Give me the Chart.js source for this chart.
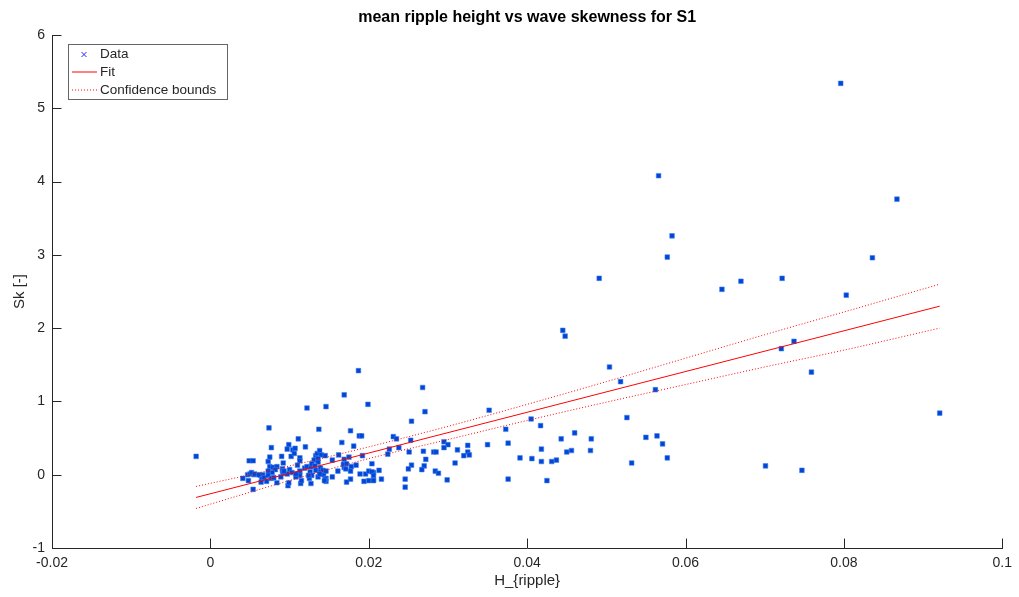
<!DOCTYPE html>
<html>
<head>
<meta charset="utf-8">
<title>mean ripple height vs wave skewness for S1</title>
<script src="https://cdn.jsdelivr.net/npm/chart.js@4.4.0/dist/chart.umd.min.js"></script>
<style>
    html, body { margin: 0; padding: 0; background: #fff; }
    #wrap { width: 1019px; height: 597px; }
</style>
</head>
<body>
<div id="wrap"><canvas id="skew-canvas" width="1019" height="597"></canvas></div>
<script>
var hRipple = [
    -0.0018, 0.0796, 0.0566, 0.0867, 0.0583, 0.0577, 0.0491, 0.0836, 0.0670, 0.0722,
    0.0646, 0.0803, 0.0721, 0.0737, 0.0759, 0.0921, 0.0701, 0.0747, 0.0445, 0.0448,
    0.0504, 0.0518, 0.0562, 0.0526, 0.0405, 0.0417, 0.0443, 0.0460, 0.0481, 0.0418,
    0.0450, 0.0456, 0.0480, 0.0550, 0.0564, 0.0571, 0.0577, 0.0532, 0.0418, 0.0431,
    0.0437, 0.0425, 0.0406, 0.0391, 0.0376, 0.0373, 0.0376, 0.0350, 0.0352,
    0.0268, 0.0271, 0.0254, 0.0231, 0.0235, 0.0253, 0.0226, 0.0224, 0.0238, 0.0251,
    0.0269, 0.0282, 0.0285, 0.0295, 0.0300, 0.0295, 0.0312, 0.0325, 0.0325, 0.0327,
    0.0320, 0.0309, 0.0272, 0.0270, 0.0267, 0.0254, 0.0250, 0.0284, 0.0288, 0.0299,
    0.0246, 0.0246, 0.0216, 0.0206, 0.0206, 0.0204, 0.0199, 0.0188, 0.0191, 0.0192,
    0.0196, 0.0200, 0.0204, 0.0206, 0.0194, 0.0200, 0.0206, 0.0189, 0.0213,
    0.0187, 0.0169, 0.0122, 0.0146, 0.0074, 0.0137, 0.0177, 0.0111, 0.0166, 0.0099,
    0.0077, 0.0120, 0.0181, 0.0097, 0.0104, 0.0107, 0.0075, 0.0090, 0.0102, 0.0106,
    0.0113, 0.0113, 0.0133, 0.0135, 0.0138, 0.0140, 0.0131, 0.0136, 0.0136, 0.0145,
    0.0154, 0.0162, 0.0169, 0.0175, 0.0049, 0.0054, 0.0073, 0.0092, 0.0110, 0.0075,
    0.0079, 0.0084, 0.0082, 0.0078, 0.0073, 0.0091, 0.0091, 0.0092, 0.0089, 0.0100,
    0.0103, 0.0097, 0.0113, 0.0113, 0.0119, 0.0122, 0.0127, 0.0128, 0.0132, 0.0126,
    0.0128, 0.0133, 0.0139, 0.0139, 0.0142, 0.0143, 0.0146, 0.0146, 0.0146, 0.0145,
    0.0161, 0.0169, 0.0171, 0.0168, 0.0172, 0.0178, 0.0184, 0.0177, 0.0177, 0.0172,
    0.0041, 0.0047, 0.0050, 0.0055, 0.0048, 0.0054, 0.0063, 0.0066, 0.0065, 0.0068,
    0.0064, 0.0071, 0.0073, 0.0077, 0.0084, 0.0080, 0.0098, 0.0099, 0.0108, 0.0108,
    0.0114, 0.0115, 0.0125, 0.0124, 0.0127, 0.0136, 0.0138, 0.0144, 0.0154, 0.0052,
    0.0056, 0.0061, 0.0093
];
var skewness = [
    0.25, 5.34, 4.08, 3.76, 3.26, 2.97, 2.68, 2.96, 2.64, 2.68,
    2.53, 2.45, 1.72, 1.82, 1.40, 0.84, 0.12, 0.06, 1.97, 1.89,
    1.47, 1.27, 1.16, 0.78, 0.76, 0.67, 0.49, 0.57, 0.49, 0.35,
    0.31, 0.33, 0.33, 0.51, 0.53, 0.42, 0.23, 0.16, 0.18, 0.18,
    0.20, -0.08, 0.22, 0.23, 0.43, 0.62, -0.06, 0.41, 0.88,
    1.19, 0.86, 0.73, 0.52, 0.49, 0.47, 0.35, 0.28, 0.37, 0.31,
    0.32, 0.31, 0.31, 0.45, 0.41, 0.37, 0.34, 0.40, 0.31, 0.27,
    0.26, 0.16, 0.21, 0.12, 0.07, 0.13, 0.08, 0.05, 0.02, -0.07,
    -0.06, -0.17, -0.06, -0.07, 0.03, 0.15, 0.96, 0.53, 0.53, 0.26,
    0.01, 0.05, 0.04, -0.01, -0.09, -0.08, -0.08, 0.01, 0.06,
    1.42, 1.09, 0.91, 0.93, 0.64, 0.62, 0.60, 0.49, 0.44, 0.41,
    0.37, 0.38, 0.39, 0.35, 0.34, 0.36, 0.24, 0.25, 0.25, 0.29,
    0.23, 0.19, 0.26, 0.29, 0.33, 0.27, 0.20, 0.22, 0.17, 0.26,
    0.20, 0.27, 0.21, 0.24, 0.19, 0.19, 0.18, 0.16, 0.13, 0.11,
    0.10, 0.11, 0.07, 0.03, 0.05, 0.08, 0.05, 0.02, -0.03, 0.07,
    0.03, 0.01, 0.05, -0.01, 0.09, 0.11, 0.11, 0.15, 0.12, 0.04,
    -0.01, 0.06, 0.09, 0.04, 0.06, 0.00, 0.05, -0.05, -0.09, -0.06,
    0.05, 0.10, 0.08, 0.14, 0.15, 0.11, 0.13, 0.05, -0.06, -0.10,
    -0.05, 0.00, 0.01, 0.00, -0.08, -0.20, -0.01, 0.00, -0.06, -0.04,
    -0.10, -0.09, -0.01, -0.05, -0.11, -0.04, -0.15, -0.11, -0.03, 0.01,
    -0.12, -0.08, -0.05, -0.01, -0.12, -0.03, 0.01, -0.08, -0.03, 0.03,
    0.01, 0.00, 0.05
];

// linear fit, end points
var fitX = [-0.0018, 0.0921];
var fitY = [-0.31, 2.30];

// confidence bounds, read at a few positions along the dotted lines
var boundX = [-0.0018, 0.01, 0.02, 0.03, 0.04, 0.05, 0.06, 0.07, 0.08, 0.0921];
var upperY = [-0.16, 0.12, 0.38, 0.66, 0.96, 1.27, 1.59, 1.91, 2.22, 2.60];
var lowerY = [-0.46, -0.08, 0.22, 0.48, 0.74, 0.99, 1.23, 1.47, 1.70, 2.00];

var FONT = "'Liberation Sans', Arial, Helvetica, sans-serif";
var INK = '#262626';
var DOT_FILL = 'rgb(0,70,215)';
var DOT_EDGE = 'rgba(70,130,235,0.55)';

var toPoints = function(xs, ys) {
    var pts = [];
    for (var i = 0; i < xs.length; i++) {
        pts.push({x: xs[i], y: ys[i]});
    }
    return pts;
};

// matlab-ish decorations: title, axis labels, inward ticks, legend box
var figureDecor = {
    id: 'figureDecor',
    afterDraw: function(chart) {
        var ctx = chart.ctx;
        var area = chart.chartArea;
        var xs = chart.scales.x;
        var ys = chart.scales.y;
        ctx.save();

        // inward ticks
        ctx.strokeStyle = INK;
        ctx.lineWidth = 1;
        ctx.beginPath();
        xs.ticks.forEach(function(t) {
            var px = Math.round(xs.getPixelForValue(t.value)) + 0.5;
            ctx.moveTo(px, area.bottom);
            ctx.lineTo(px, area.bottom - 9.5);
        });
        ys.ticks.forEach(function(t) {
            var py = Math.round(ys.getPixelForValue(t.value)) + 0.5;
            ctx.moveTo(area.left, py);
            ctx.lineTo(area.left + 9.5, py);
        });
        ctx.stroke();

        var midX = (area.left + area.right) / 2;

        // title
        ctx.fillStyle = '#000';
        ctx.font = 'bold 16px ' + FONT;
        ctx.textAlign = 'center';
        ctx.textBaseline = 'middle';
        ctx.fillText('mean ripple height vs wave skewness for S1', midX, 18);

        // axis labels
        ctx.fillStyle = INK;
        ctx.font = '15px ' + FONT;
        ctx.fillText('H_{ripple}', midX, 581);
        ctx.save();
        ctx.translate(20, (area.top + area.bottom) / 2);
        ctx.rotate(-Math.PI / 2);
        ctx.fillText('Sk [-]', 0, 0);
        ctx.restore();

        // legend
        var lx = 68, ly = 44, lw = 159, lh = 55;
        ctx.fillStyle = '#fff';
        ctx.fillRect(lx, ly, lw, lh);
        ctx.strokeStyle = '#666';
        ctx.strokeRect(lx + 0.5, ly + 0.5, lw, lh);

        var rows = [54.5, 72, 90];
        ctx.strokeStyle = 'rgb(40,40,255)';
        ctx.beginPath();
        ctx.moveTo(81.5, rows[0] - 2.5); ctx.lineTo(86.5, rows[0] + 2.5);
        ctx.moveTo(86.5, rows[0] - 2.5); ctx.lineTo(81.5, rows[0] + 2.5);
        ctx.stroke();

        ctx.strokeStyle = '#ff0000';
        ctx.beginPath();
        ctx.moveTo(72, rows[1]); ctx.lineTo(97, rows[1]);
        ctx.stroke();
        ctx.setLineDash([1, 2]);
        ctx.beginPath();
        ctx.moveTo(72, rows[2]); ctx.lineTo(97, rows[2]);
        ctx.stroke();
        ctx.setLineDash([]);

        ctx.fillStyle = INK;
        ctx.font = '13.5px ' + FONT;
        ctx.textAlign = 'left';
        ctx.fillText('Data', 100, rows[0]);
        ctx.fillText('Fit', 100, rows[1]);
        ctx.fillText('Confidence bounds', 100, rows[2]);

        ctx.restore();
    }
};

window.onload = function() {
    var ctx = document.getElementById('skew-canvas').getContext('2d');
    window.skewChart = new Chart(ctx, {
        type: 'scatter',
        data: {
            datasets: [
                {
                    label: 'Data',
                    data: toPoints(hRipple, skewness),
                    pointStyle: 'rect',
                    pointRadius: 3.3,
                    backgroundColor: DOT_FILL,
                    borderColor: DOT_EDGE,
                    borderWidth: 1,
                    order: 2
                },
                {
                    label: 'Fit',
                    data: toPoints(fitX, fitY),
                    showLine: true,
                    borderColor: '#ff0000',
                    borderWidth: 1,
                    pointRadius: 0,
                    order: 1
                },
                {
                    label: 'Confidence bounds',
                    data: toPoints(boundX, upperY),
                    showLine: true,
                    cubicInterpolationMode: 'monotone',
                    borderColor: '#ff0000',
                    borderWidth: 1,
                    borderDash: [1, 2],
                    pointRadius: 0,
                    order: 1
                },
                {
                    label: 'lower bound',
                    data: toPoints(boundX, lowerY),
                    showLine: true,
                    cubicInterpolationMode: 'monotone',
                    borderColor: '#ff0000',
                    borderWidth: 1,
                    borderDash: [1, 2],
                    pointRadius: 0,
                    order: 1
                }
            ]
        },
        options: {
            responsive: false,
            animation: false,
            devicePixelRatio: 1,
            layout: {
                padding: {left: 0, right: 12, top: 35, bottom: 0}
            },
            plugins: {
                legend: {display: false},
                title: {display: false},
                tooltip: {enabled: false}
            },
            scales: {
                x: {
                    type: 'linear',
                    min: -0.02,
                    max: 0.1,
                    afterFit: function(scale) { scale.height = 49; },
                    ticks: {
                        stepSize: 0.02,
                        color: INK,
                        padding: 7,
                        maxRotation: 0,
                        font: {family: FONT, size: 14},
                        callback: function(v) { return String(Number(v.toFixed(2))); }
                    },
                    grid: {drawOnChartArea: false, drawTicks: false},
                    border: {display: true, color: INK, width: 1}
                },
                y: {
                    type: 'linear',
                    min: -1,
                    max: 6,
                    afterFit: function(scale) { scale.width = 52; },
                    ticks: {
                        stepSize: 1,
                        color: INK,
                        padding: 7,
                        font: {family: FONT, size: 14}
                    },
                    grid: {drawOnChartArea: false, drawTicks: false},
                    border: {display: true, color: INK, width: 1}
                }
            }
        },
        plugins: [figureDecor]
    });
};
</script>
</body>
</html>
